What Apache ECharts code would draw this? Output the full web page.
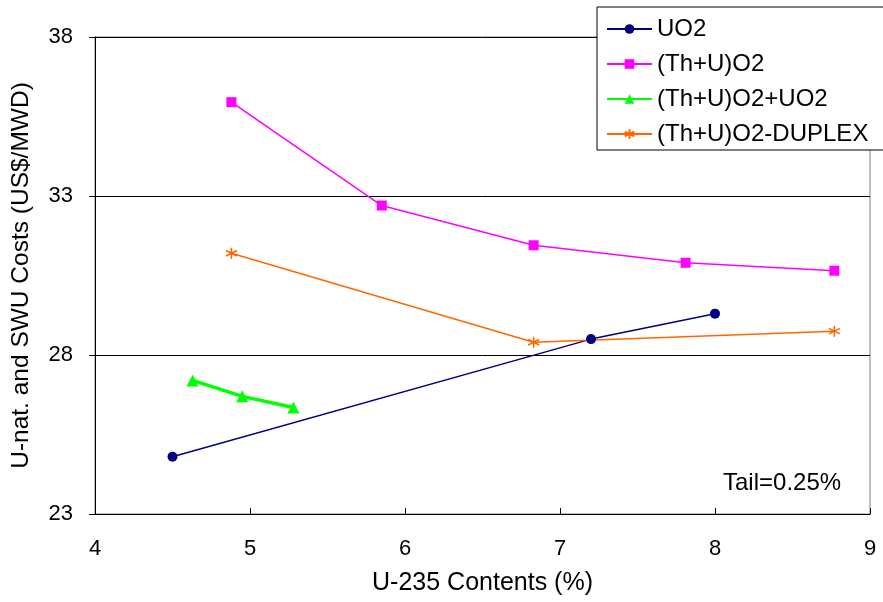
<!DOCTYPE html>
<html><head><meta charset="utf-8">
<script src="https://cdn.jsdelivr.net/npm/echarts@6/dist/echarts.min.js"></script>
<style>html,body{margin:0;padding:0;background:#fff}#c{width:883px;height:602px}</style>
</head><body><div id="c"></div>
<script>
const uo2X = [4.50, 7.20, 8.00];
const uo2Y = [24.8, 28.5, 29.3];
const thuX = [4.88, 5.85, 6.83, 7.81, 8.77];
const thuY = [35.95, 32.7, 31.45, 30.9, 30.65];
const mixX = [4.63, 4.95, 5.28];
const mixY = [27.2, 26.7, 26.35];
const dupX = [4.88, 6.83, 8.77];
const dupY = [31.2, 28.4, 28.75];
const seriesNames = ['UO2', '(Th+U)O2', '(Th+U)O2+UO2', '(Th+U)O2-DUPLEX'];
const xTicks = [4, 5, 6, 7, 8, 9];
const yTicks = [23, 28, 33, 38];

const FONT = '"Liberation Sans", Arial, sans-serif';
const pair = (xs, ys) => xs.map((x, i) => [x, ys[i]]);
const star = 'path://M5,0 L5,10 M0.7,2.5 L9.3,7.5 M9.3,2.5 L0.7,7.5';

const chart = echarts.init(document.getElementById('c'), null, {renderer: 'canvas'});
chart.setOption({
  animation: false,
  backgroundColor: '#fff',
  grid: {left: 95, right: 13, top: 37, bottom: 88, show: true, borderColor: '#808080', borderWidth: 1, backgroundColor: 'transparent'},
  xAxis: {
    type: 'value', min: xTicks[0], max: xTicks[xTicks.length - 1], interval: 1,
    name: 'U-235 Contents (%)', nameLocation: 'middle', nameGap: 57,
    nameTextStyle: {fontFamily: FONT, fontSize: 25, color: '#000'},
    axisLine: {lineStyle: {color: '#000', width: 1}},
    axisTick: {inside: true, length: 6, lineStyle: {color: '#000'}},
    axisLabel: {fontFamily: FONT, fontSize: 22, color: '#000', margin: 24},
    splitLine: {show: false}
  },
  yAxis: {
    type: 'value', min: yTicks[0], max: yTicks[yTicks.length - 1], interval: 5,
    name: 'U-nat. and SWU Costs (US$/MWD)', nameLocation: 'middle', nameGap: 61,
    nameTextStyle: {fontFamily: FONT, fontSize: 24.5, color: '#000'},
    axisLine: {lineStyle: {color: '#000', width: 1}},
    axisTick: {inside: false, length: 6, lineStyle: {color: '#000'}},
    axisLabel: {fontFamily: FONT, fontSize: 22, color: '#000', margin: 22},
    splitLine: {show: true, lineStyle: {color: '#000', width: 1}}
  },
  legend: {
    orient: 'vertical', left: 597, top: 7,
    padding: [10, 40, 4, 9], itemGap: 11, itemWidth: 45, itemHeight: 12,
    backgroundColor: '#fff', borderColor: '#000', borderWidth: 1,
    textStyle: {fontFamily: FONT, fontSize: 24, color: '#000', lineHeight: 22},
    data: seriesNames
  },
  graphic: [{
    type: 'text', left: 723, top: 471,
    style: {text: 'Tail=0.25%', font: '24px "Liberation Sans", Arial, sans-serif', fill: '#000'}
  }],
  series: [
    {name: seriesNames[0], type: 'line', data: pair(uo2X, uo2Y), symbol: 'circle', symbolSize: 10,
     color: '#000080', lineStyle: {width: 1.5, color: '#000080'}, itemStyle: {color: '#000080'}},
    {name: seriesNames[1], type: 'line', data: pair(thuX, thuY), symbol: 'rect', symbolSize: 10,
     color: '#FF00FF', lineStyle: {width: 1.5, color: '#FF00FF'}, itemStyle: {color: '#FF00FF'}},
    {name: seriesNames[2], type: 'line', data: pair(mixX, mixY), symbol: 'triangle', symbolSize: 12,
     color: '#00FF00', lineStyle: {width: 3.5, color: '#00FF00'}, itemStyle: {color: '#00FF00'}},
    {name: seriesNames[3], type: 'line', data: pair(dupX, dupY), symbol: star, symbolSize: 11,
     color: '#FF6600', lineStyle: {width: 1.5, color: '#FF6600'},
     itemStyle: {color: 'transparent', borderColor: '#FF6600', borderWidth: 1.5}}
  ]
});
</script></body></html>
